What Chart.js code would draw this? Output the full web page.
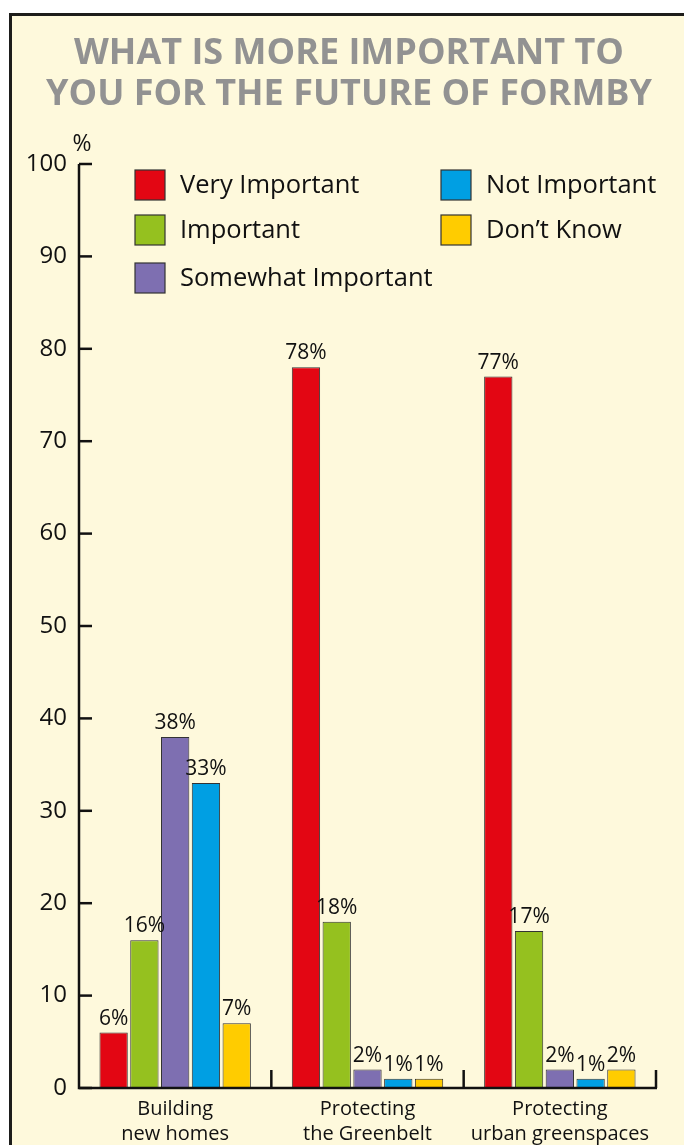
<!DOCTYPE html>
<html>
<head>
<meta charset="utf-8">
<script src="https://cdn.jsdelivr.net/npm/chart.js@4"></script>
<style>
  body { margin: 0; background: #fff; width: 684px; height: 1145px; overflow: hidden; position: relative; }
  #frame { position: absolute; left: 9px; top: 13px; width: 720px; height: 1200px; border: 3px solid #1d1d1b; background: #fef9dc; }
  #chart { position: absolute; left: 0; top: 0; }
</style>
</head>
<body>
<div id="frame"></div>
<canvas id="chart" width="684" height="1145"></canvas>
<script>
const titleLines = ['WHAT IS MORE IMPORTANT TO', 'YOU FOR THE FUTURE OF FORMBY']
const categories = [['Building', 'new homes'], ['Protecting', 'the Greenbelt'], ['Protecting', 'urban greenspaces']]
const seriesNames = ['Very Important', 'Important', 'Somewhat Important', 'Not Important', 'Don\u2019t Know']
const seriesColors = ['#e30613', '#95c11f', '#7e6fb1', '#009fe3', '#ffcc00']
const veryImportant = [6, 78, 77]
const important = [16, 18, 17]
const somewhatImportant = [38, 2, 2]
const notImportant = [33, 1, 1]
const dontKnow = [7, 1, 2]
const yTicks = [0, 10, 20, 30, 40, 50, 60, 70, 80, 90, 100]

const FONT = '"Open Sans", "Noto Sans", sans-serif'
const INK = '#111'

// legend spots: [boxX, boxY]
const legendSpots = [[135, 170], [135, 215], [135, 263], [441, 170], [441, 215]]

const decor = {
  id: 'decor',
  afterDraw(chart) {
    const ctx = chart.ctx
    const {left, right, bottom} = chart.chartArea
    const y = chart.scales.y
    ctx.save()

    // title
    ctx.fillStyle = '#929292'
    ctx.font = `bold 36px ${FONT}`
    ctx.textAlign = 'center'
    ctx.textBaseline = 'alphabetic'
    ctx.fillText(titleLines[0], 349, 64)
    ctx.fillText(titleLines[1], 349, 105)

    // % unit
    ctx.fillStyle = INK
    ctx.font = `23px ${FONT}`
    ctx.fillText('%', 82, 151)

    // axes
    ctx.strokeStyle = INK
    ctx.lineWidth = 2.5
    ctx.beginPath()
    ctx.moveTo(left, y.getPixelForValue(100))
    ctx.lineTo(left, bottom)
    ctx.lineTo(right + 1, bottom)
    ctx.stroke()

    // tick marks pointing right
    yTicks.forEach(v => {
      const py = y.getPixelForValue(v)
      ctx.beginPath()
      ctx.moveTo(left, py)
      ctx.lineTo(left + 13, py)
      ctx.stroke()
    })

    // category separators
    const w = (right - left) / categories.length
    for (let i = 1; i <= categories.length; i++) {
      const px = left + i * w
      ctx.beginPath()
      ctx.moveTo(px, bottom - 18)
      ctx.lineTo(px, bottom)
      ctx.stroke()
    }

    // value labels
    ctx.font = `21px ${FONT}`
    ctx.fillStyle = INK
    ctx.textAlign = 'center'
    chart.data.datasets.forEach((ds, di) => {
      const meta = chart.getDatasetMeta(di)
      meta.data.forEach((bar, i) => {
        ctx.fillText(ds.data[i] + '%', bar.x, bar.y - 8)
      })
    })

    // legend
    ctx.font = `25.5px ${FONT}`
    ctx.textAlign = 'left'
    ctx.textBaseline = 'middle'
    ctx.lineWidth = 1.2
    chart.data.datasets.forEach((ds, di) => {
      const [bx, by] = legendSpots[di]
      ctx.fillStyle = ds.backgroundColor
      ctx.fillRect(bx, by, 30, 30)
      ctx.strokeStyle = '#333'
      ctx.strokeRect(bx, by, 30, 30)
      ctx.fillStyle = INK
      ctx.fillText(ds.label, bx + 45, by + 16)
    })
    ctx.restore()
  }
}

const seriesValues = [veryImportant, important, somewhatImportant, notImportant, dontKnow]

new Chart(document.getElementById('chart'), {
  type: 'bar',
  data: {
    labels: categories,
    datasets: seriesNames.map((name, i) => ({
      label: name,
      data: seriesValues[i],
      backgroundColor: seriesColors[i],
      borderColor: '#333',
      borderWidth: 1,
      categoryPercentage: 0.8,
      barPercentage: 0.92
    }))
  },
  options: {
    responsive: false,
    animation: false,
    layout: { padding: { top: 164, right: 28, left: 0, bottom: 0 } },
    plugins: { legend: { display: false }, tooltip: { enabled: false } },
    scales: {
      x: {
        grid: { display: false, drawTicks: false },
        border: { display: false },
        ticks: { color: INK, font: { family: FONT, size: 20, lineHeight: 1.25 }, padding: 9, maxRotation: 0, autoSkip: false },
        afterFit: s => { s.height = 57 }
      },
      y: {
        min: 0,
        max: 100,
        grid: { display: false, drawTicks: false },
        border: { display: false },
        ticks: { stepSize: 10, color: INK, font: { family: FONT, size: 24 }, padding: 12 },
        afterFit: s => { s.width = 79 }
      }
    }
  },
  plugins: [decor]
})
</script>
</body>
</html>
